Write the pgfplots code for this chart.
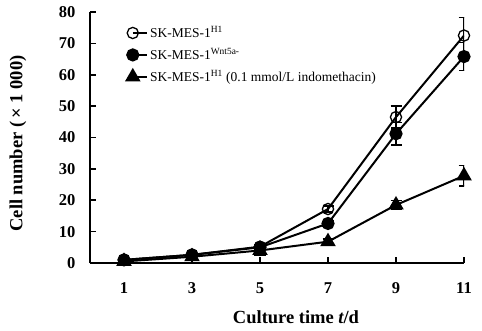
\documentclass[border=0pt]{standalone}
\usepackage{pgfplots}
\pgfplotsset{compat=1.18}
\usepackage{fontspec}
\setmainfont{Liberation Serif}
\begin{document}
\begin{tikzpicture}
\begin{axis}[
  scale only axis,
  width=374pt, height=251pt,
  xmin=0, xmax=11, ymin=0, ymax=80,
  axis lines=left,
  axis line style={line width=1.8pt,-},
  xtick={1,3,5,7,9,11},
  ytick={0,10,...,80},
  tick align=inside,
  major tick length=6pt,
  tick style={line width=1.6pt,black},
  ticklabel style={font=\fontsize{16.5}{18}\selectfont\bfseries},
  /pgf/number format/assume math mode=true,
  xticklabel style={yshift=-16pt},
  yticklabel style={xshift=-11pt},
  every axis x label/.style={at={(axis description cs:0.5,0)}, anchor=center, yshift=-54pt, xshift=19pt},
  every axis y label/.style={at={(axis description cs:0,0.5)}, anchor=center, xshift=-72pt, yshift=-6pt, rotate=90},
  xlabel={\fontsize{18.5}{20}\selectfont\bfseries Culture time {\bfseries\itshape t}/d},
  ylabel={\fontsize{18.5}{20}\selectfont\bfseries Cell number (\,\texttimes\ 1 000)},
  legend style={at={(0.095,0.955)}, anchor=north west, draw=none, fill=none,
    font=\fontsize{13.5}{15}\selectfont, row sep=5pt, inner sep=1pt},
  legend cell align=left,
  legend image code/.code={
    \draw[#1,mark=none] (0cm,0cm) -- (0.5cm,0cm);
    \draw[#1,only marks] plot coordinates {(0cm,0cm)};
  },
]
\addplot[black, line width=2pt, mark=o, mark size=5.6pt, mark options={fill=white, line width=1.3pt},
  error bars/.cd, y dir=both, y explicit, error bar style={line width=1.4pt, black},
  error mark options={rotate=90, mark size=5.5pt, line width=1.4pt, black}]
  coordinates {
  (1,1.0) +- (0,0.3)
  (3,2.6) +- (0,0.4)
  (5,5.2) +- (0,0.6)
  (7,17.2) +- (0,1.0)
  (9,46.5) +- (0,3.5)
  (11,72.5) +- (0,5.8)
};
\addlegendentry{SK-MES-1\textsuperscript{H1}}
\addplot[black, line width=2pt, mark=*, mark size=5.6pt, mark options={fill=black},
  error bars/.cd, y dir=both, y explicit, error bar style={line width=1.4pt, black},
  error mark options={rotate=90, mark size=5.5pt, line width=1.4pt, black}]
  coordinates {
  (1,1.0) +- (0,0.3)
  (3,2.6) +- (0,0.4)
  (5,5.0) +- (0,0.6)
  (7,12.6) +- (0,1.0)
  (9,41.2) +- (0,3.6)
  (11,65.8) +- (0,4.5)
};
\addlegendentry{SK-MES-1\textsuperscript{Wnt5a-}}
\addplot[black, line width=2pt, mark=triangle*, mark size=7pt, mark options={fill=black},
  error bars/.cd, y dir=both, y explicit, error bar style={line width=1.4pt, black},
  error mark options={rotate=90, mark size=5.5pt, line width=1.4pt, black}]
  coordinates {
  (1,0.5) +- (0,0.2)
  (3,2.0) +- (0,0.3)
  (5,4.0) +- (0,1.5)
  (7,6.8) +- (0,0.8)
  (9,18.5) +- (0,1.5)
  (11,27.8) +- (0,3.3)
};
\addlegendentry{SK-MES-1\textsuperscript{H1} (0.1 mmol/L indomethacin)}
\end{axis}
\path[use as bounding box] (-90pt,-67pt) rectangle (392pt,263pt);
\end{tikzpicture}
\end{document}
